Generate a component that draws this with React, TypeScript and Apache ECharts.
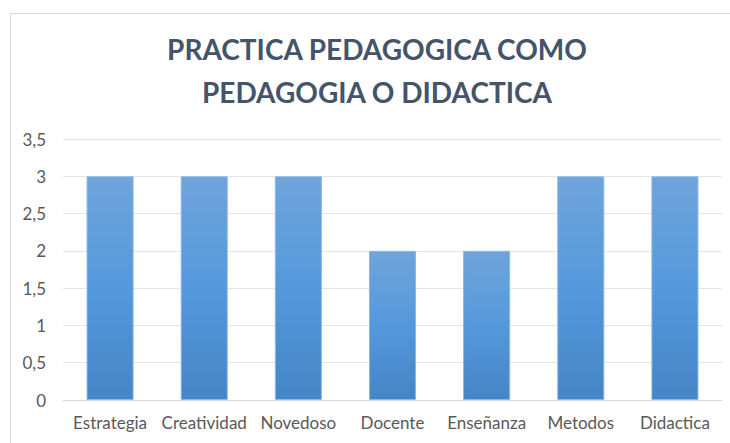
import React, { useEffect, useRef } from "react";
import * as echarts from "echarts";

const categories = ["Estrategia", "Creatividad", "Novedoso", "Docente", "Enseñanza", "Metodos", "Didactica"];
const values = [3, 3, 3, 2, 2, 3, 3];
const titleLines = ["PRACTICA PEDAGOGICA COMO", "PEDAGOGIA O DIDACTICA"];

export default function App() {
  const ref = useRef<HTMLDivElement>(null);
  useEffect(() => {
    const chart = echarts.init(ref.current!, undefined, { renderer: "svg" });
    chart.setOption({
      animation: false,
      backgroundColor: "#ffffff",
      graphic: [
        {
          type: "rect",
          shape: { x: 10.5, y: 13.5, width: 760, height: 460 },
          style: { fill: "none", stroke: "#D9D9D9", lineWidth: 1 },
          silent: true,
        },
        ...titleLines.map((t, i) => ({
          type: "text",
          x: 377,
          y: 35 + i * 43,
          style: {
            text: t,
            fill: "#44546A",
            font: "bold 28px Lato",
            textAlign: "center",
            textVerticalAlign: "top",
          },
        })),
      ],
      grid: { left: 63, right: 8, top: 139, bottom: 43 },
      xAxis: {
        type: "category",
        data: categories,
        axisTick: { show: false },
        axisLine: { lineStyle: { color: "#D9D9D9" } },
        axisLabel: { color: "#595959", fontSize: 17, fontFamily: "Lato", margin: 14, interval: 0 },
      },
      yAxis: {
        type: "value",
        min: 0,
        max: 3.5,
        interval: 0.5,
        axisLine: { show: false },
        axisTick: { show: false },
        splitLine: { lineStyle: { color: "#E4E4E4" } },
        axisLabel: {
          color: "#595959",
          fontSize: 17,
          fontFamily: "Lato",
          margin: 17,
          formatter: (v: number) => String(v).replace(".", ","),
        },
      },
      series: [
        {
          type: "bar",
          data: values,
          barWidth: "50%",
          itemStyle: {
            color: new echarts.graphic.LinearGradient(0, 0, 0, 1, [
              { offset: 0, color: "#6FA4DA" },
              { offset: 0.5, color: "#5499DC" },
              { offset: 1, color: "#4485C6" },
            ]),
            borderColor: "#8DB8E6",
            borderWidth: 1,
          },
        },
      ],
    });
    return () => chart.dispose();
  }, []);
  return <div ref={ref} style={{ position: "fixed", left: 0, top: 0, width: 730, height: 443 }} />;
}
